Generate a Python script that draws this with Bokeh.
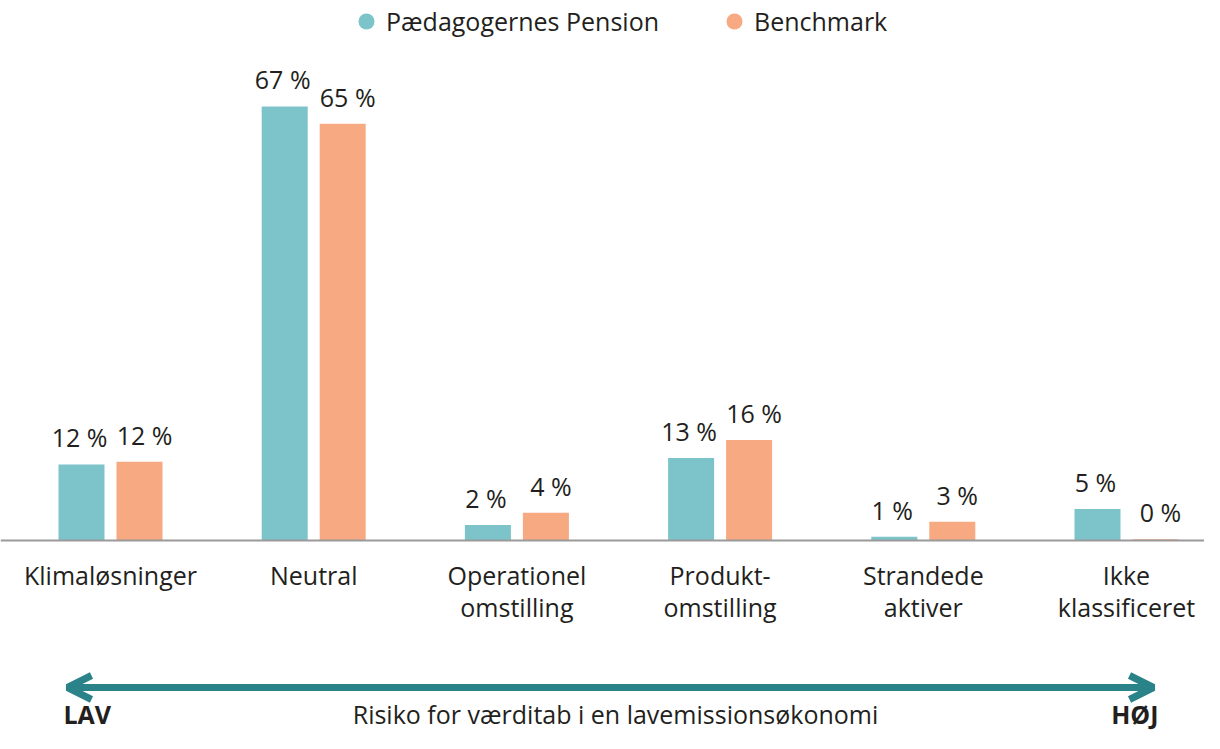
from bokeh.plotting import figure
from bokeh.models import ColumnDataSource, Span, Legend, LegendItem, Label, Arrow, OpenHead, Range1d
from bokeh.transform import dodge
from bokeh.core.properties import value
from bokeh.embed import file_html
from bokeh.resources import INLINE

categories = ["Klimaløsninger", "Neutral", "Operationel\nomstilling", "Produkt-\nomstilling",
              "Strandede\naktiver", "Ikke\nklassificeret"]
series_names = ["Pædagogernes Pension", "Benchmark"]
paedagogernes = [11.8, 67.3, 2.4, 12.8, 0.6, 4.9]
benchmark = [12.2, 64.6, 4.3, 15.6, 2.9, 0.2]
axis_low = "LAV"
axis_high = "HØJ"
axis_title = "Risiko for værditab i en lavemissionsøkonomi"

TEAL = "#7cc4ca"
ORANGE = "#f7a982"
ARROW = "#2a8388"
TXT = "#231f20"
FONT = "Open Sans"
FS = "25px"

W, H = 1204, 733
px_per_cat = 203.2
px_per_pct = 6.45
base_px = 540
x0 = -110 / px_per_cat
y_top = base_px / px_per_pct
y_bot = -(H - base_px) / px_per_pct

idx = list(range(len(categories)))
src = ColumnDataSource(dict(
    x=idx, cat=categories, p=paedagogernes, b=benchmark,
    pl=[f"{round(v)} %" for v in paedagogernes],
    bl=[f"{round(v)} %" for v in benchmark],
))

p = figure(width=W, height=H, output_backend="svg", toolbar_location=None,
           x_range=Range1d(x0, x0 + W / px_per_cat), y_range=Range1d(y_bot, y_top),
           x_axis_type=None, y_axis_type=None, min_border=0)
p.outline_line_color = None
p.xgrid.visible = False
p.ygrid.visible = False

off = 29 / px_per_cat
bw = 46 / px_per_cat
p.vbar(x=dodge("x", -off), top="p", bottom=0, width=bw, source=src, fill_color=TEAL, line_color=None)
p.vbar(x=dodge("x", off), top="b", bottom=0, width=bw, source=src, fill_color=ORANGE, line_color=None)

p.add_layout(Span(location=0, dimension="width", line_color="#9a9a9a", line_width=2))

common = dict(text_font=value(FONT), text_font_size=FS, text_color=TXT, text_align="center")
p.text(x=dodge("x", -off), y="p", text="pl", source=src, x_offset=-2, y_offset=-27,
       text_baseline="alphabetic", **common)
p.text(x=dodge("x", off), y="b", text="bl", source=src, x_offset=5, y_offset=-27,
       text_baseline="alphabetic", **common)
p.text(x="x", y=0, text="cat", source=src, y_offset=17, text_baseline="top", text_line_height=0.95, **common)

# legend
nan = float("nan")
r1 = p.scatter(x=[nan], y=[nan], size=16, fill_color=TEAL, line_color=None)
r2 = p.scatter(x=[nan], y=[nan], size=16, fill_color=ORANGE, line_color=None)
leg = Legend(items=[LegendItem(label=series_names[0], renderers=[r1]),
                    LegendItem(label=series_names[1], renderers=[r2])],
             orientation="horizontal", location=(346, 692), glyph_width=40, glyph_height=40,
             label_standoff=-3, spacing=55, padding=0, margin=0,
             border_line_color=None, background_fill_alpha=0,
             label_text_font=FONT, label_text_font_size=FS, label_text_color=TXT)
p.add_layout(leg)

# risk arrow
ay = H - 687
p.add_layout(Arrow(x_start=67, y_start=ay, x_end=1153, y_end=ay,
                   start_units="screen", end_units="screen", line_color=ARROW, line_width=7,
                   start=OpenHead(size=24, line_color=ARROW, line_width=7),
                   end=OpenHead(size=24, line_color=ARROW, line_width=7)))

lab = dict(y=20, x_units="screen", y_units="screen", text_font=FONT, text_font_size=FS,
           text_color=TXT, text_baseline="alphabetic")
p.add_layout(Label(x=63, text=axis_low, text_align="left", text_font_style="bold", **lab))
p.add_layout(Label(x=615, text=axis_title, text_align="center", **lab))
p.add_layout(Label(x=1158, text=axis_high, text_align="right", text_font_style="bold", **lab))

open("out.html", "w").write(file_html(p, INLINE))
